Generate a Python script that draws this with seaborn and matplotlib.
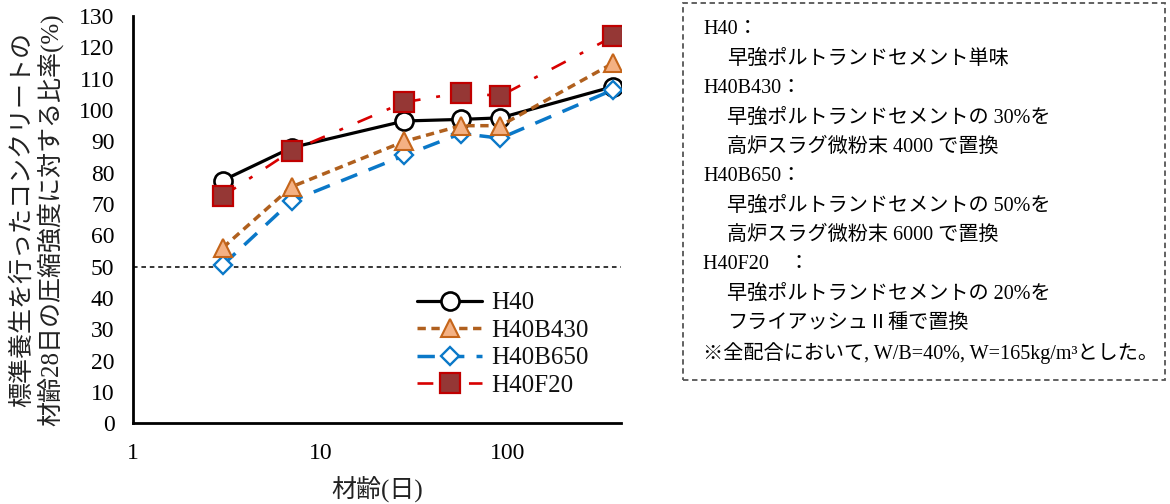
import matplotlib
matplotlib.use("Agg")
import matplotlib.pyplot as plt
from matplotlib.patches import Rectangle
from matplotlib.ticker import FixedLocator, LogLocator, NullFormatter
import seaborn as sns
import pandas as pd

# Age of concrete (days) and strength ratio to 28-day standard-cured strength (%)
days = [3, 7, 28, 56, 91, 365]
h40 = [77.5, 88, 96.5, 97, 97.5, 107.5]
h40b430 = [56, 75.5, 90, 95, 95, 115]
h40b650 = [50.5, 71, 85.5, 92.5, 91, 106.5]
h40f20 = [72.5, 87, 102.5, 105.5, 104.5, 123.5]
series_names = ["H40", "H40B430", "H40B650", "H40F20"]

x_ticks = [1, 10, 100]
x_tick_labels = ["1", "10", "100"]
y_ticks = list(range(0, 131, 10))
ref_level = 50

y_label = "標準養生を行ったコンクリートの\n材齢28日の圧縮強度に対する比率(%)"
x_label = "材齢(日)"

note_lines = [
    ("H40：", 0),
    ("早強ポルトランドセメント単味", 1),
    ("H40B430：", 0),
    ("早強ポルトランドセメントの 30%を", 1),
    ("高炉スラグ微粉末 4000 で置換", 1),
    ("H40B650：", 0),
    ("早強ポルトランドセメントの 50%を", 1),
    ("高炉スラグ微粉末 6000 で置換", 1),
    ("H40F20　：", 0),
    ("早強ポルトランドセメントの 20%を", 1),
    ("フライアッシュⅡ種で置換", 1),
    ("※全配合において, W/B=40%, W=165kg/m³とした。", 0),
]

sns.set_theme(style="white")
plt.rcParams["font.family"] = ["Liberation Serif", "Noto Sans CJK JP"]
plt.rcParams["axes.unicode_minus"] = False

fig = plt.figure(figsize=(11.7, 5.04), dpi=100)
ax = fig.add_axes([0.1139, 0.1601, 0.4168, 0.8081])

data = pd.DataFrame({"days": days, "H40": h40, "H40B430": h40b430,
                     "H40B650": h40b650, "H40F20": h40f20})

styles = {
    "H40": dict(color="black", linewidth=2.3, linestyle="-", marker="o",
                markersize=13, markerfacecolor="white", markeredgecolor="black",
                markeredgewidth=1.9, zorder=3),
    "H40B430": dict(color="#B0601E", linewidth=2.5, linestyle=(0, (2.4, 1.6)),
                    marker="^", markersize=13, markerfacecolor="#F4B183",
                    markeredgecolor="#C5651A", markeredgewidth=1.5, zorder=5),
    "H40B650": dict(color="#0A78C8", linewidth=2.5, linestyle=(0, (5, 3.5)),
                    marker="D", markersize=9, markerfacecolor="white",
                    markeredgecolor="#0A78C8", markeredgewidth=1.7, zorder=4),
    "H40F20": dict(color="#D80000", linewidth=1.9, linestyle=(0, (6, 6, 1.5, 6)),
                   marker="s", markersize=14, markerfacecolor="#953735",
                   markeredgecolor="#C00000", markeredgewidth=1.6, zorder=6),
}

for name in series_names:
    sns.lineplot(data=data, x="days", y=name, ax=ax, label=name,
                 errorbar=None, **styles[name])

ax.axhline(ref_level, color="black", linewidth=1.1, linestyle=(0, (3, 2.5)), zorder=2)

ax.set_xscale("log")
ax.set_xlim(1, 400)
ax.set_ylim(0, 130)
ax.xaxis.set_major_locator(FixedLocator(x_ticks))
ax.set_xticklabels(x_tick_labels)
ax.xaxis.set_minor_locator(LogLocator(base=10, subs=range(2, 10)))
ax.xaxis.set_minor_formatter(NullFormatter())
ax.set_yticks(y_ticks)

for side in ["top", "right"]:
    ax.spines[side].set_visible(False)
for side in ["left", "bottom"]:
    ax.spines[side].set_linewidth(2.0)
    ax.spines[side].set_color("black")

ax.tick_params(axis="both", which="major", direction="inout", length=11,
               width=1.8, color="black", labelsize=17, labelcolor="black")
ax.tick_params(axis="y", which="major", pad=8)
ax.tick_params(axis="x", which="major", pad=9)
ax.tick_params(axis="x", which="minor", direction="in", length=5.5, width=1.5,
               color="black")

ax.set_ylabel(y_label, fontsize=18, color="#222222", linespacing=1.15,
              multialignment="center")
ax.yaxis.set_label_coords(-0.143, 0.5)
ax.set_xlabel(x_label, fontsize=18, color="#222222")
ax.xaxis.set_label_coords(0.5, -0.13)

leg = ax.legend(loc="upper left", bbox_to_anchor=(0.582, 0.323), frameon=False,
                fontsize=18, handlelength=2.6, handletextpad=0.35,
                labelspacing=0.2, borderaxespad=0, borderpad=0)
for txt in leg.get_texts():
    txt.set_color("#111111")

# Annotated note box on the right
fig.add_artist(Rectangle((0.5838, 0.246), 0.4119, 0.748, transform=fig.transFigure,
                         fill=False, edgecolor="#555555", linewidth=1.3,
                         linestyle=(0, (3, 2))))
y0 = 1 - 29.5 / 504
dy = 29.4 / 504
for i, (line, indent) in enumerate(note_lines):
    x = (703 if indent == 0 else 727) / 1170
    fig.text(x, y0 - i * dy, line, fontsize=14.5, ha="left", va="center",
             color="black")

fig.savefig("out.png", dpi=100)
